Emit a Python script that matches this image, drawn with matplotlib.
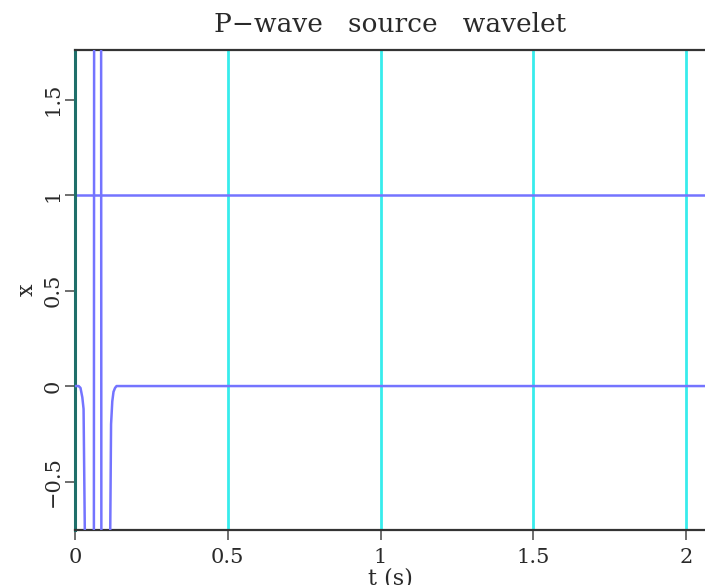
import matplotlib
matplotlib.use("Agg")
import matplotlib.pyplot as plt

# source wavelet samples (time in s, amplitude)
t = [0.0, 0.012, 0.018, 0.024, 0.028, 0.033, 0.050, 0.074, 0.098,
     0.1146, 0.118, 0.122, 0.126, 0.131, 0.136, 2.1]
x = [0.0, 0.0, -0.01, -0.06, -0.12, -0.9, -40.0, 40.0, -40.0,
     -0.9, -0.2, -0.08, -0.03, -0.01, 0.0, 0.0]

level = 1.0
grid_t = [0.5, 1.0, 1.5, 2.0]
xticks = [0, 0.5, 1, 1.5, 2]
xticklabels = ["0", "0.5", "1", "1.5", "2"]
yticks = [-0.5, 0, 0.5, 1, 1.5]
yticklabels = ["\u22120.5", "0", "0.5", "1", "1.5"]

plt.rcParams['font.family'] = ['DejaVu Serif']

fig = plt.figure(figsize=(7.05, 5.85), dpi=100)
ax = fig.add_axes([0.1064, 0.094, 0.8936, 0.8205])

for g in grid_t:
    ax.axvline(g, color='#38ecec', lw=2.0, zorder=1)
ax.axhline(level, color='#7474ff', lw=1.8, zorder=2)
ax.plot(t, x, color='#7474ff', lw=1.8, zorder=3)

ax.set_xlim(0, 2.062)
ax.set_ylim(-0.754, 1.76)

ax.set_xticks(xticks)
ax.set_xticklabels(xticklabels, fontsize=15, color='#2a2a2a')
ax.set_yticks(yticks)
ax.set_yticklabels(yticklabels, fontsize=15, color='#2a2a2a', rotation=90, va='center')
ax.tick_params(direction='out', length=7, width=1.2, color='#555555')
ax.tick_params(axis='x', pad=6)
ax.tick_params(axis='y', pad=2)

for s in ['left', 'bottom', 'top']:
    ax.spines[s].set_linewidth(1.6)
    ax.spines[s].set_color('#333333')
ax.spines['left'].set_color('#1f6f6a')
ax.spines['left'].set_linewidth(2.2)
ax.spines['right'].set_visible(False)

ax.set_xlabel('t (s)', fontsize=16, color='#2a2a2a', labelpad=0)
ax.set_ylabel('x', fontsize=16, color='#2a2a2a', labelpad=4)
ax.set_title('P\u2212wave   source   wavelet', fontsize=19, color='#2a2a2a', pad=13)

fig.savefig('out.png', dpi=100)
